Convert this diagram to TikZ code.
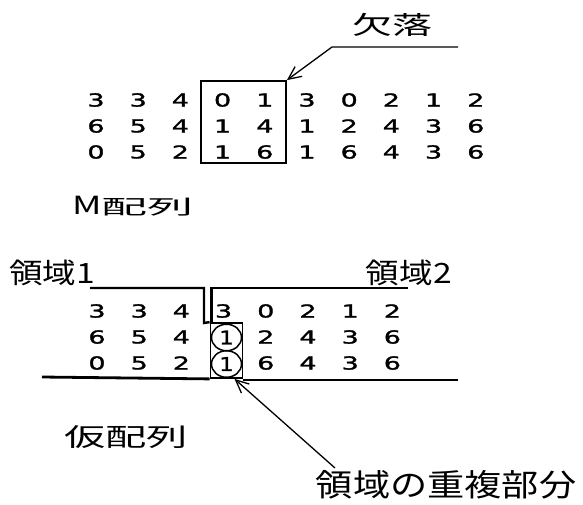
\documentclass[tikz,border=0pt]{standalone}
\usepackage{fontspec}
\usepackage{graphicx}
\usetikzlibrary{arrows.meta,shapes.geometric}
\setmainfont{DejaVu Sans}
\newfontfamily\dg[FakeBold=1.2]{DejaVu Sans}
\newfontfamily\jp{Noto Sans CJK JP}
\newcommand\widetxt[2]{\scalebox{#1}[1]{#2}}
\tikzset{
  num/.style={inner sep=0pt, font=\dg\fontsize{18}{18}\selectfont},
  lbl/.style={inner sep=0pt, font=\jp},
  frame/.style={draw, line width=1.8pt, inner sep=0pt},
  region/.style={line width=2.4pt},
  leader/.style={line width=1.3pt},
  barb/.style={leader, -{Straight Barb[length=13pt,width=12pt,line width=1.3pt]}},
  ring/.style={draw, ellipse, line width=1.5pt, minimum width=30pt, minimum height=26.5pt, inner sep=0pt, font=\dg\fontsize{19}{19}\selectfont}
}
\begin{document}
\begin{tikzpicture}[x=1pt,y=-1pt]
\useasboundingbox (0,0) rectangle (583,504);
% ---------- M array ----------
\node[frame, minimum width=85pt, minimum height=82pt] (gap) at (243.5,122) {};
\foreach \r/\y/\row in {1/100/{3,3,4,0,1,3,0,2,1,2}, 2/126/{6,5,4,1,4,1,2,4,3,6}, 3/152/{0,5,2,1,6,1,6,4,3,6}} {
  \foreach \v [count=\c] in \row {
    \node[num] (m\r-\c) at ({96+42.2*(\c-1)},\y) {\widetxt{1.5}{\v}};
  }
}
\node[lbl, font=\jp\fontsize{25}{25}\selectfont] (kek) at (392,25) {\widetxt{1.6}{欠落}};
\coordinate (k1) at (458,47);
\coordinate (k2) at (332,47);
\draw[barb] (k1) -- (k2) -- (gap.north east);
\node[lbl, anchor=west] (mname) at (72,206) {\fontsize{25}{25}\selectfont\widetxt{1.45}{M}\fontsize{20}{20}\selectfont\widetxt{2.3}{配列}};
% ---------- provisional array ----------
\node[lbl, anchor=west, font=\jp\fontsize{28}{28}\selectfont] (r1) at (9,273) {\widetxt{1.2}{領域1}};
\node[lbl, anchor=east, font=\jp\fontsize{28}{28}\selectfont] (r2) at (452,273) {\widetxt{1.2}{領域2}};
\node[frame, minimum width=32pt, minimum height=55pt] (ovl) at (226.5,350.5) {};
\node[ring] (o2) at (226.5,337.5) {\widetxt{1.2}{1}};
\node[ring] (o3) at (226.5,364) {\widetxt{1.2}{1}};
\foreach \r/\y/\row in {1/311/{3,3,4,3,0,2,1,2}, 2/337/{6,5,4,,2,4,3,6}, 3/363/{0,5,2,,6,4,3,6}} {
  \foreach \v [count=\c] in \row {
    \node[num] (p\r-\c) at ({97+42.2*(\c-1)},\y) {\widetxt{1.5}{\v}};
  }
}
\coordinate (a1) at (90,288);
\coordinate (a2) at (204,288);
\coordinate (a3) at (204,323);
\draw[region] (a1) -- (a2) -- (a3) -- (ovl.north west);
\coordinate (b1) at (408,288);
\coordinate (b2) at (211.5,288);
\draw[region] (b1) -- (b2) -- (b2 |- ovl.north);
\coordinate (c1) at (42,377);
\coordinate (c2) at (458,380);
\draw[line width=2.8pt] (c1) -- (ovl.south west);
\draw[line width=2.8pt] (ovl.south east |- c2) -- (c2);
\node[lbl, font=\jp\fontsize{31}{31}\selectfont] (dup) at (446,485) {\widetxt{1.2}{領域の重複部分}};
\coordinate (d1) at (335,468);
\draw[barb] (d1) -- ([xshift=8pt]ovl.south);
\node[lbl, font=\jp\fontsize{25}{25}\selectfont] (kari) at (126,437) {\widetxt{1.65}{仮配列}};
\end{tikzpicture}
\end{document}
